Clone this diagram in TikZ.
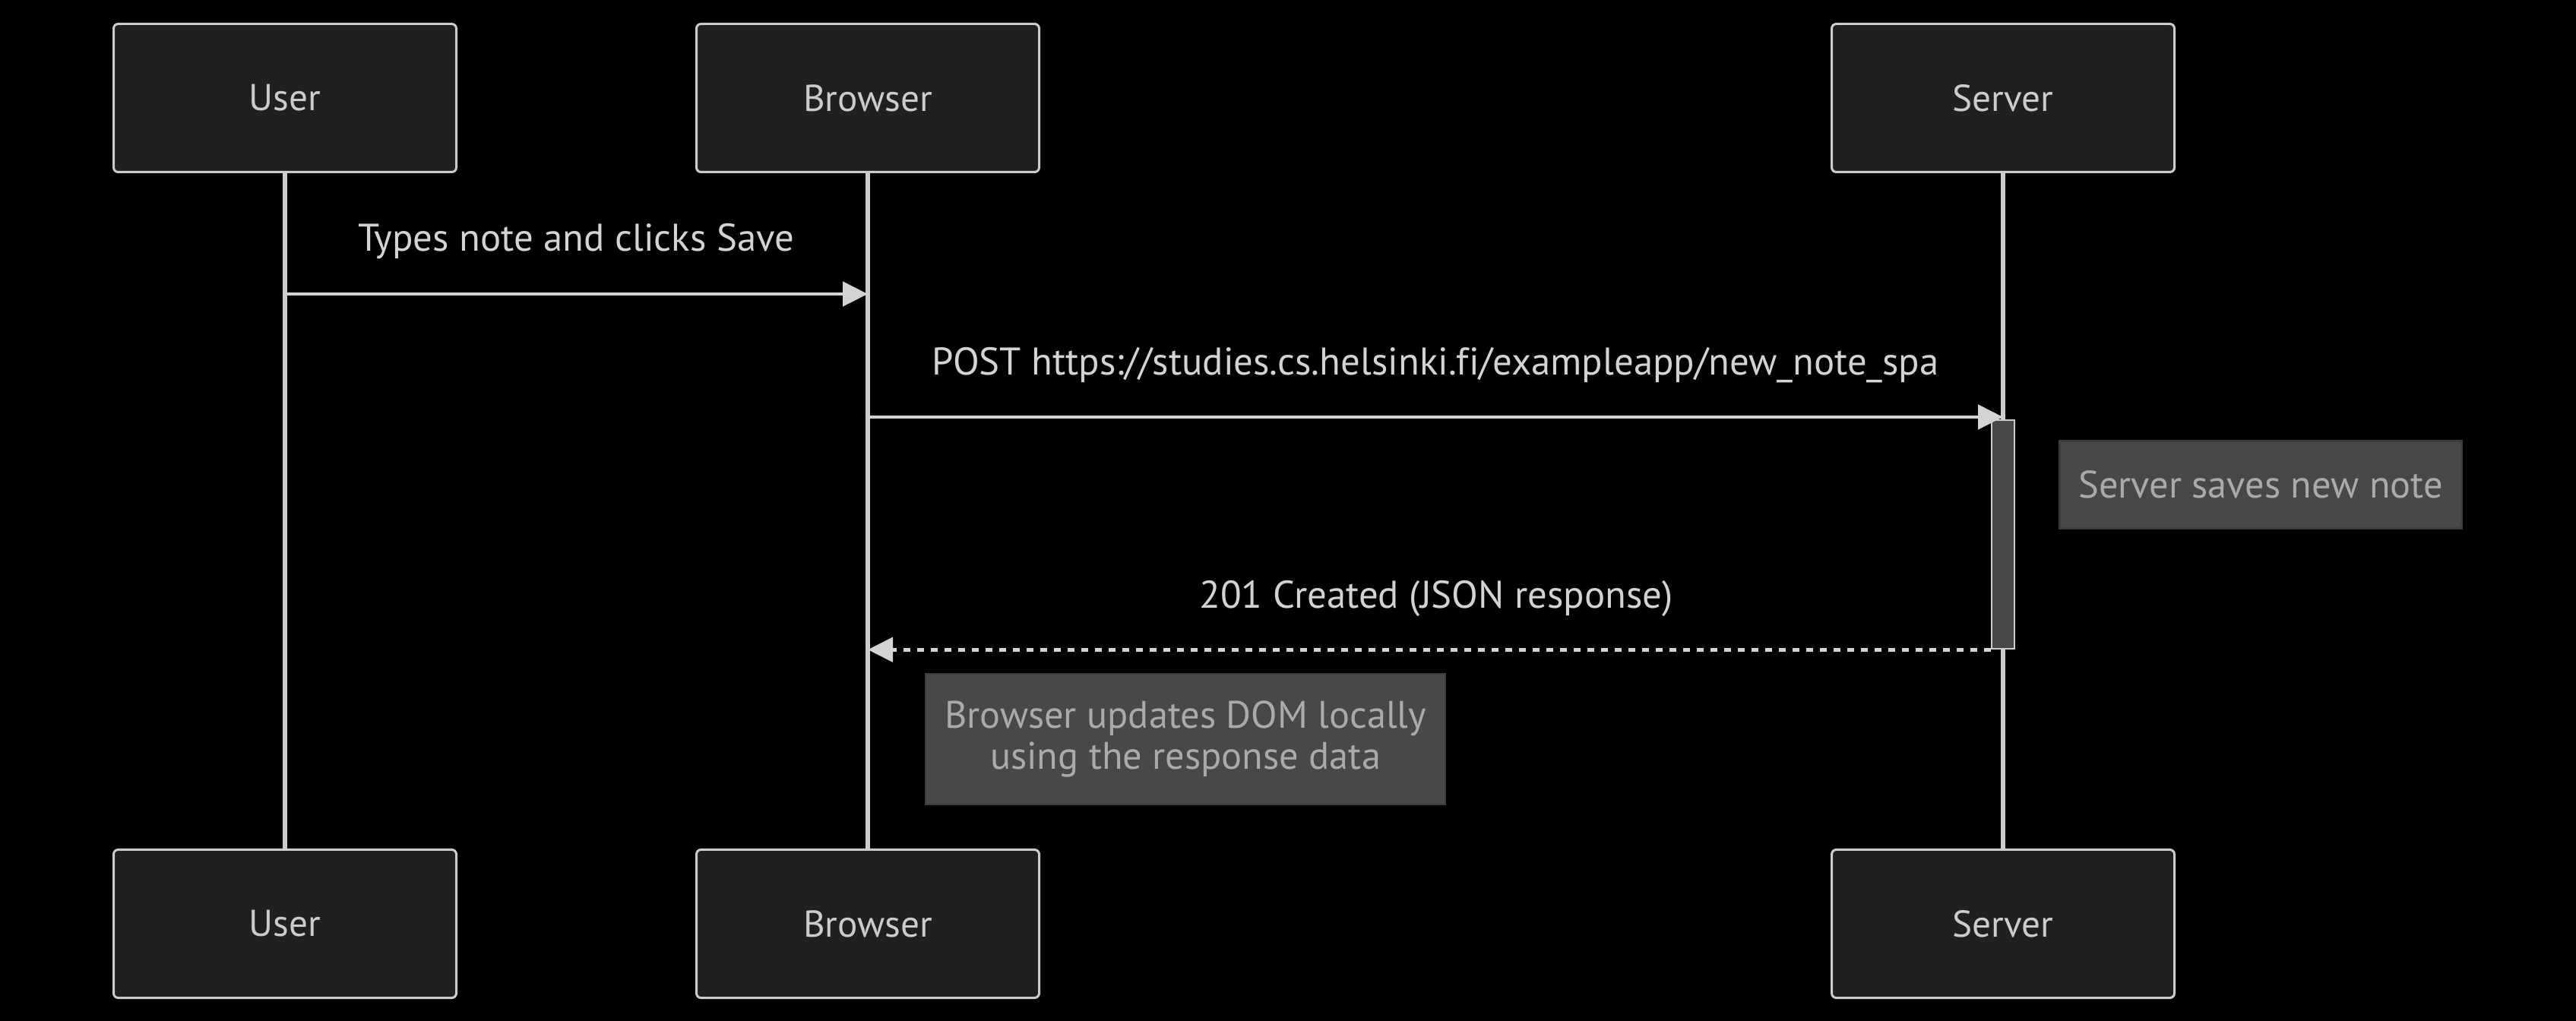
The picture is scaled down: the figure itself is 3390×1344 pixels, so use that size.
\documentclass[tikz,border=0pt]{standalone}
\usepackage{fontspec}
\setmainfont{PT Sans}[Ligatures=NoCommon]
\usetikzlibrary{arrows.meta,positioning}
\definecolor{actorFill}{HTML}{1F2020}
\definecolor{actorLine}{HTML}{CCCCCC}
\definecolor{noteFill}{HTML}{474949}
\definecolor{noteLine}{HTML}{3C3E3E}
\definecolor{noteText}{HTML}{AAAAAA}
\definecolor{wireGray}{HTML}{D3D3D3}
\tikzset{
  actor/.style={draw=actorLine, fill=actorFill, rounded corners=1.5pt, line width=.75pt,
    minimum width=112.75pt, minimum height=48.75pt, text=actorLine,
    font=\fontsize{12.3}{14}\selectfont},
  lifeline/.style={draw=actorLine, line width=1.3pt},
  activation/.style={draw=actorLine, fill=noteFill, line width=.6pt,
    minimum width=7.5pt, minimum height=75.25pt, inner sep=0pt},
  notebox/.style={draw=noteLine, fill=noteFill, line width=.6pt, text=noteText,
    align=center, inner sep=0pt, font=\fontsize{12.6}{13.5}\selectfont},
  msglabel/.style={text=wireGray, font=\fontsize{12.7}{14}\selectfont, inner sep=0pt},
  msg/.style={-{Triangle[length=8.25pt, width=8pt]}, line width=1.2pt, draw=wireGray},
  reply/.style={msg, dash pattern=on 2.25pt off 2.25pt}
}
\begin{document}
\begin{tikzpicture}[x=0.25pt, y=-0.25pt]
  \useasboundingbox[fill=black] (0,0) rectangle (3390,1344);

  % participants, top and bottom
  \node[actor] (user) at (375,129) {User};
  \node[actor] (browser) at (1142,129) {Browser};
  \node[actor] (server) at (2636,129) {Server};
  \node[actor] (userB) at (375,1216) {User};
  \node[actor] (browserB) at (1142,1216) {Browser};
  \node[actor] (serverB) at (2636,1216) {Server};

  \draw[lifeline] (user) -- (userB);
  \draw[lifeline] (browser) -- (browserB);
  \draw[lifeline] (server) -- (serverB);

  \node[activation] (act) at (2636,703.5) {};

  % message rows
  \coordinate (m1) at (0,387);
  \coordinate (m2) at (0,549);

  \node[msglabel] (t1) at (758,318) {Types note and clicks Save};
  \draw[msg] (user |- m1) -- (browser |- m1);

  \node[msglabel] (t2) at (1889,481) {POST https://studies.cs.helsinki.fi/exampleapp/new\_note\_spa};
  \draw[msg] (browser |- m2) -- (server |- m2);

  \node[notebox, minimum width=132.25pt, minimum height=28.75pt] (n1) at (2975,638) {Server saves new note};

  \node[msglabel] (t3) at (1890,788) {201 Created (JSON response)};
  \draw[reply] (act.south west) -- (browser |- act.south);

  \node[notebox, minimum width=171pt, minimum height=43pt] (n2) at (1560,973) {Browser updates DOM locally\\using the response data};
\end{tikzpicture}
\end{document}
